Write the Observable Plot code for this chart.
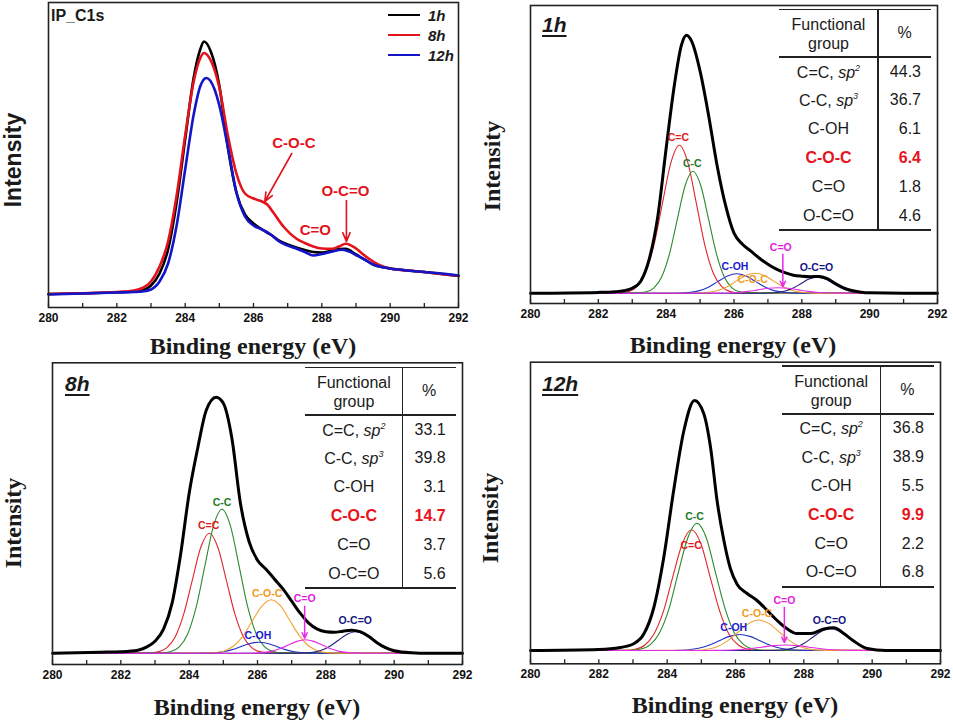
<!DOCTYPE html>
<html><head><meta charset="utf-8">
<script src="https://cdn.jsdelivr.net/npm/d3@7"></script>
<script src="https://cdn.jsdelivr.net/npm/@observablehq/plot@0.6"></script>
<style>
body{margin:0;background:#fff;}
#root{position:relative;width:953px;height:720px;overflow:hidden;font-family:"Liberation Sans",Arial,sans-serif;color:#1a1a1a;}
.abs{position:absolute;}
.ctr{position:absolute;transform:translate(-50%,-50%);white-space:nowrap;}
.rot{position:absolute;transform:translate(-50%,-50%) rotate(-90deg);white-space:nowrap;}
.serifTitle{font-family:"Liberation Serif","Times New Roman",serif;font-weight:bold;font-size:24px;}
.hline{position:absolute;height:1.6px;background:#222;}
.vline{position:absolute;width:1.6px;background:#222;}
.cell{position:absolute;transform:translate(-50%,-50%);white-space:nowrap;font-size:16px;}
.num{position:absolute;transform:translate(-100%,-50%);white-space:nowrap;font-size:16px;}
sup{font-size:9px;vertical-align:7px;}
.ptitle{position:absolute;transform:translateY(-50%);font-weight:bold;font-style:italic;font-size:21px;text-decoration:underline;text-decoration-thickness:1.5px;text-underline-offset:3px;}
</style></head>
<body><div id="root"></div>
<script>
// ---------------- DATA ----------------
const energyTicks = [280, 282, 284, 286, 288, 290, 292];
const energyMinorTicks = [281, 283, 285, 287, 289, 291];
const seriesNames = ["1h", "8h", "12h"];

// Overview spectra (binding energy eV, intensity a.u.)
const overview1h = [[280,13.5],[281,14.2],[282,15.2],[282.5,16],[282.75,17],[283,22],[283.25,34],[283.5,58],[283.75,105],[284,168],[284.25,230],[284.45,259],[284.55,266],[284.75,256],[285,222],[285.25,160],[285.5,115],[285.75,93],[286,84],[286.25,78],[286.5,73],[286.75,67],[287,63],[287.25,60],[287.5,57.5],[287.75,55.5],[288,55],[288.25,56.5],[288.5,58.5],[288.7,58.7],[289,53],[289.25,48],[289.5,43],[289.75,40.5],[290,39],[290.5,37],[291,35.5],[291.5,33.5],[292,31.5]];
const overview8h = [[280,13.5],[281,14.2],[282,15.5],[282.5,17],[282.75,19.5],[283,26],[283.25,41],[283.5,66],[283.75,112],[284,172],[284.25,226],[284.45,250],[284.55,254.5],[284.75,247],[285,220],[285.25,172],[285.5,134],[285.75,114],[286,109],[286.25,106],[286.4,103],[286.6,94],[286.9,80],[287.25,69],[287.5,64.5],[287.75,61],[288,59],[288.3,58.7],[288.5,61],[288.7,63.7],[289,59],[289.25,52],[289.5,46],[289.75,41.5],[290,39],[290.5,37],[291,35.5],[291.5,33.5],[292,31.5]];
const overview12h = [[280,13],[281,14],[282,15],[282.5,15.5],[282.75,16],[283,18],[283.25,26],[283.5,44],[283.75,82],[284,138],[284.25,193],[284.45,222],[284.62,229.5],[284.85,219],[285,202],[285.25,160],[285.5,115],[285.75,91],[286,82],[286.25,78],[286.5,73],[286.75,66],[287,62],[287.25,59],[287.5,55.5],[287.75,52],[288,53.5],[288.25,55.5],[288.6,57.7],[288.8,56],[289,52.5],[289.25,48],[289.5,43],[289.75,40.5],[290,39],[290.5,37],[291,35.5],[291.5,34],[292,32]];

// Table contents
const componentNames = ["C=C", "C-C", "C-OH", "C-O-C", "C=O", "O-C=O"];
const hybridization = ["2", "3", null, null, null, null];
const percent1h = [44.3, 36.7, 6.1, 6.4, 1.8, 4.6];
const percent8h = [33.1, 39.8, 3.1, 14.7, 3.7, 5.6];
const percent12h = [36.8, 38.9, 5.5, 9.9, 2.2, 6.8];

// Deconvoluted C1s, 1h
const fit1hEnvelope = [[280,0],[282,0.8],[282.5,1.5],[282.75,2.5],[283,5],[283.25,12],[283.5,34],[283.75,76],[284,145],[284.25,210],[284.45,248],[284.6,258],[284.75,252],[285,222],[285.25,178],[285.5,128],[285.75,88],[286,60],[286.25,49],[286.5,42],[286.75,35],[287,29],[287.25,24],[287.5,20.5],[287.75,18],[288,17],[288.25,16.5],[288.5,16.8],[288.75,14.5],[289,9.5],[289.25,5],[289.5,2.5],[289.75,1],[290,0.4],[291,0],[292,0]];
const fit1hCdC = [[282.64,0.3],[282.89,1.6],[283.14,6.5],[283.39,20.0],[283.64,48.1],[283.89,89.8],[284.14,130.6],[284.39,148],[284.64,130.6],[284.89,89.8],[285.14,48.1],[285.39,20.0],[285.64,6.5],[285.89,1.6],[286.14,0.3]];
const fit1hCC = [[283.18,0.3],[283.41,1.4],[283.64,5.4],[283.87,16.5],[284.10,39.6],[284.33,74.0],[284.56,107.7],[284.79,122],[285.02,107.7],[285.25,74.0],[285.48,39.6],[285.71,16.5],[285.94,5.4],[286.17,1.4],[286.40,0.3]];
const fit1hCOH = [[284.16,0],[284.43,0.2],[284.71,0.9],[284.98,2.6],[285.26,6.3],[285.53,11.8],[285.81,17.2],[286.08,19.5],[286.36,17.2],[286.63,11.8],[286.91,6.3],[287.18,2.6],[287.46,0.9],[287.73,0.2],[288.01,0]];
const fit1hCOC = [[284.70,0],[284.97,0.2],[285.25,0.9],[285.52,2.7],[285.80,6.5],[286.07,12.1],[286.35,17.7],[286.62,20],[286.90,17.7],[287.17,12.1],[287.45,6.5],[287.72,2.7],[288.00,0.9],[288.27,0.2],[288.55,0]];
const fit1hCdO = [[285.2,0],[285.5,0.1],[285.8,0.2],[286.1,0.7],[286.4,1.8],[286.7,3.3],[287.0,4.9],[287.3,5.5],[287.6,4.9],[287.9,3.3],[288.2,1.8],[288.5,0.7],[288.8,0.2],[289.1,0.1],[289.4,0]];
const fit1hOCdO = [[286.81,0],[287.04,0.2],[287.28,0.7],[287.51,2.2],[287.75,5.2],[287.98,9.7],[288.21,14.1],[288.45,16],[288.69,14.1],[288.92,9.7],[289.16,5.2],[289.39,2.2],[289.63,0.7],[289.86,0.2],[290.10,0]];

// Deconvoluted C1s, 8h
const fit8hEnvelope = [[280,0],[281.4,1],[282,1.5],[282.5,3],[282.75,6],[283,12],[283.25,24],[283.5,50],[283.75,99],[284,160],[284.25,205],[284.5,243],[284.79,256],[285,250],[285.25,215],[285.5,150],[285.75,112],[286,93],[286.25,84],[286.5,74],[286.75,64],[287,52],[287.25,40],[287.5,30],[287.75,24],[288,21.5],[288.25,21],[288.5,22],[288.75,23],[289,21.5],[289.25,17],[289.5,10.5],[289.75,5.5],[290,2.5],[290.5,0.5],[291,0],[292,0]];
const fit8hCdC = [[282.84,0.3],[283.09,1.3],[283.34,5.3],[283.59,16.2],[283.84,39.0],[284.09,72.8],[284.34,105.9],[284.59,120],[284.84,105.9],[285.09,72.8],[285.34,39.0],[285.59,16.2],[285.84,5.3],[286.09,1.3],[286.34,0.3]];
const fit8hCC = [[283.21,0.3],[283.46,1.6],[283.71,6.3],[283.96,19.5],[284.21,46.8],[284.46,87.3],[284.71,127.1],[284.96,144],[285.21,127.1],[285.46,87.3],[285.71,46.8],[285.96,19.5],[286.21,6.3],[286.46,1.6],[286.71,0.3]];
const fit8hCOH = [[284.22,0],[284.48,0.1],[284.74,0.5],[285.00,1.5],[285.26,3.6],[285.52,6.7],[285.78,9.7],[286.04,11],[286.30,9.7],[286.56,6.7],[286.82,3.6],[287.08,1.5],[287.34,0.5],[287.60,0.1],[287.86,0]];
const fit8hCOC = [[284.48,0.1],[284.75,0.6],[285.03,2.3],[285.30,7.2],[285.58,17.3],[285.85,32.4],[286.13,47.1],[286.40,53.4],[286.68,47.1],[286.95,32.4],[287.23,17.3],[287.50,7.2],[287.78,2.3],[288.05,0.6],[288.33,0.1]];
const fit8hCdO = [[285.65,0],[285.90,0.1],[286.15,0.6],[286.40,1.8],[286.65,4.4],[286.90,8.1],[287.15,11.8],[287.40,13.4],[287.65,11.8],[287.90,8.1],[288.15,4.4],[288.40,1.8],[288.65,0.6],[288.90,0.1],[289.15,0]];
const fit8hOCdO = [[287.12,0],[287.37,0.2],[287.62,0.9],[287.87,2.9],[288.12,7.0],[288.37,13.0],[288.62,19.0],[288.87,21.5],[289.12,19.0],[289.37,13.0],[289.62,7.0],[289.87,2.9],[290.12,0.9],[290.37,0.2],[290.62,0]];

// Deconvoluted C1s, 12h
const fit12hEnvelope = [[280,0],[282,1],[282.63,3],[283.02,6.7],[283.32,16.7],[283.61,43],[283.9,93],[284.19,160],[284.49,220],[284.8,250],[285.07,237],[285.27,203],[285.46,150],[285.66,110],[285.85,82],[286.05,66],[286.34,57],[286.63,50],[286.93,40],[287.22,30],[287.51,21.7],[287.8,17],[288.2,17],[288.59,21.5],[288.88,22.7],[289.17,17],[289.46,9.5],[289.85,2],[290.4,0],[292,0]];
const fit12hCdC = [[282.79,0.3],[283.06,1.3],[283.34,5.3],[283.61,16.3],[283.89,39.2],[284.16,73.2],[284.44,106.5],[284.71,120.7],[284.99,106.5],[285.26,73.2],[285.54,39.2],[285.81,16.3],[286.09,5.3],[286.36,1.3],[286.64,0.3]];
const fit12hCC = [[282.95,0.3],[283.22,1.4],[283.50,5.6],[283.77,17.2],[284.05,41.3],[284.32,77.2],[284.60,112.3],[284.87,127.3],[285.15,112.3],[285.42,77.2],[285.70,41.3],[285.97,17.2],[286.25,5.6],[286.52,1.4],[286.80,0.3]];
const fit12hCOH = [[284.02,0],[284.32,0.2],[284.62,0.7],[284.92,2.2],[285.22,5.2],[285.52,9.7],[285.82,14.1],[286.12,16],[286.42,14.1],[286.72,9.7],[287.02,5.2],[287.32,2.2],[287.62,0.7],[287.92,0.2],[288.22,0]];
const fit12hCOC = [[284.58,0.1],[284.88,0.3],[285.18,1.3],[285.48,4.1],[285.78,9.9],[286.08,18.5],[286.38,26.9],[286.68,30.5],[286.98,26.9],[287.28,18.5],[287.58,9.9],[287.88,4.1],[288.18,1.3],[288.48,0.3],[288.78,0.1]];
const fit12hCdO = [[285.01,0],[285.36,0.1],[285.71,0.2],[286.06,0.7],[286.41,1.8],[286.76,3.3],[287.11,4.9],[287.46,5.5],[287.81,4.9],[288.16,3.3],[288.51,1.8],[288.86,0.7],[289.21,0.2],[289.56,0.1],[289.91,0]];
const fit12hOCdO = [[286.96,0],[287.22,0.2],[287.48,1.0],[287.74,2.9],[288.00,7.0],[288.26,13.2],[288.52,19.2],[288.78,21.7],[289.04,19.2],[289.30,13.2],[289.56,7.0],[289.82,2.9],[290.08,1.0],[290.34,0.2],[290.60,0]];

// ---------------- STYLE / LAYOUT ----------------
const FONT = "Liberation Sans, Arial, sans-serif";
const seriesColors = {"1h": "#000000", "8h": "#e3121b", "12h": "#1414c8"};
const compColors = {"C=C": "#e0262a", "C-C": "#2c8a2c", "C-OH": "#2430c8", "C-O-C": "#f2a233", "C=O": "#e52be5", "O-C=O": "#1e1e7c"};
const labelColors = {"C=C": "#e01a1a", "C-C": "#1f7a1f", "C-OH": "#1a1ad0", "C-O-C": "#ef9a22", "C=O": "#e020e0", "O-C=O": "#15157e"};
const root = document.getElementById("root");

function rows(pts, extra) { return pts.map(([e, v]) => Object.assign({e, v}, extra || {})); }
function withBaseline(pts) { return [[280, 0], ...pts, [292, 0]]; }

function axisMarks(frameH) {
  return [
    Plot.tickX(energyTicks.concat(energyMinorTicks), {x: d => d, stroke: "#222", strokeWidth: 1.3, insetTop: frameH - 4}),
    Plot.axisX({ticks: energyTicks, tickSize: 0, tickPadding: 6, fontSize: 12, fontWeight: "bold", fontFamily: FONT, label: null, tickFormat: d => String(d)}),
    Plot.frame({stroke: "#222", strokeWidth: 1.6})
  ];
}

function mount(svg, left, top) {
  const d = document.createElement("div");
  d.className = "abs"; d.style.left = left + "px"; d.style.top = top + "px";
  d.appendChild(svg); root.appendChild(d);
}
function addText(html, x, y, cls, css) {
  const d = document.createElement("div");
  d.className = cls; d.style.left = x + "px"; d.style.top = y + "px";
  if (css) d.style.cssText += css;
  d.innerHTML = html; root.appendChild(d);
  return d;
}

// ---------- Panel 1: overview ----------
(function () {
  const W = 470, H = 330, mt = 2, mb = 23;
  const spectra = {"1h": overview1h, "8h": overview8h, "12h": overview12h};
  const marks = [];
  for (const name of seriesNames) {
    marks.push(Plot.line(rows(spectra[name]), {x: "e", y: "v", stroke: seriesColors[name], strokeWidth: 2.6, curve: "monotone-x"}));
  }
  const ann = [
    {t: "C-O-C", x: 287.18, y: 164},
    {t: "C=O", x: 287.81, y: 77.7},
    {t: "O-C=O", x: 288.69, y: 116}
  ];
  const arrows = [
    {x1: 287.12, y1: 154, x2: 286.33, y2: 106},
    {x1: 288.72, y1: 107, x2: 288.72, y2: 66}
  ];
  marks.push(Plot.text(ann, {x: "x", y: "y", text: "t", fill: "#e3121b", fontWeight: "bold", fontSize: 15, fontFamily: FONT}));
  marks.push(Plot.arrow(arrows, {x1: "x1", y1: "y1", x2: "x2", y2: "y2", stroke: "#e3121b", strokeWidth: 1.6, headLength: 9, headAngle: 45}));
  const svg = Plot.plot({
    width: W, height: H, marginLeft: 48, marginRight: 12, marginTop: mt, marginBottom: mb,
    x: {domain: [280, 292]}, y: {domain: [0, 305], axis: null},
    style: {fontFamily: FONT, color: "#111", background: "transparent", overflow: "visible"},
    marks: [...marks, ...axisMarks(H - mt - mb)]
  });
  mount(svg, 0, 0);
  addText("IP_C1s", 51, 16, "abs", "transform:translateY(-50%);font-weight:bold;font-size:16px;");
  const legY = [15, 35, 55];
  seriesNames.forEach((n, i) => {
    const l = document.createElement("div");
    l.className = "abs";
    l.style.cssText = `left:388px;top:${legY[i] - 1.3}px;width:32px;height:2.6px;background:${seriesColors[n]};`;
    root.appendChild(l);
    addText(n, 428, legY[i], "abs", "transform:translateY(-50%);font-weight:bold;font-style:italic;font-size:15px;");
  });
  addText("Intensity", 13, 160, "rot", "font-weight:bold;font-size:23px;");
  addText("Binding energy (eV)", 253, 346, "ctr serifTitle");
})();

// ---------- Fitted panels ----------
function fitPanel(cfg) {
  const comps = [
    ["C=C", cfg.data.CdC], ["C-C", cfg.data.CC], ["C-OH", cfg.data.COH],
    ["C-O-C", cfg.data.COC], ["O-C=O", cfg.data.OCdO], ["C=O", cfg.data.CdO]
  ];
  const marks = [];
  for (const [name, pts] of comps) {
    marks.push(Plot.line(rows(withBaseline(pts)), {x: "e", y: "v", stroke: compColors[name], strokeWidth: 1.1, curve: "monotone-x"}));
  }
  marks.push(Plot.line(rows(cfg.data.env), {x: "e", y: "v", stroke: "#000", strokeWidth: 3, curve: "monotone-x"}));
  marks.push(Plot.arrow([cfg.arrow], {x1: "x1", y1: "y1", x2: "x2", y2: "y2", stroke: compColors["C=O"], strokeWidth: 1.5, headLength: 6, headAngle: 50}));
  marks.push(Plot.text(cfg.labels, {x: "x", y: "y", text: "t", fill: d => labelColors[d.t], fontWeight: "bold", fontSize: 10.5, fontFamily: FONT}));
  const svg = Plot.plot({
    width: cfg.W, height: cfg.H, marginLeft: cfg.ml, marginRight: cfg.mr, marginTop: cfg.mt, marginBottom: cfg.mb,
    x: {domain: [280, 292]}, y: {domain: cfg.yDomain, axis: null},
    style: {fontFamily: FONT, color: "#111", background: "transparent", overflow: "visible"},
    marks: [...marks, ...axisMarks(cfg.H - cfg.mt - cfg.mb)]
  });
  mount(svg, cfg.left, cfg.top);
  addText(cfg.title, cfg.titlePos[0], cfg.titlePos[1], "ptitle");
  addText("Intensity", cfg.yTitle[0], cfg.yTitle[1], "rot serifTitle");
  addText("Binding energy (eV)", cfg.xTitle[0], cfg.xTitle[1], "ctr serifTitle");
  makeTable(cfg.table, cfg.pct);
}

function makeTable(t, pct) {
  const {left, top, w1, w2} = t;
  const headerH = 48, rowH = 28.8, W = w1 + w2, bottom = headerH + 6 * rowH;
  const box = document.createElement("div");
  box.className = "abs"; box.style.left = left + "px"; box.style.top = top + "px";
  box.style.width = W + "px"; box.style.height = bottom + "px";
  root.appendChild(box);
  const add = (cls, css, html) => { const d = document.createElement("div"); d.className = cls; d.style.cssText = css; if (html != null) d.innerHTML = html; box.appendChild(d); };
  add("hline", `left:0;top:-0.8px;width:${W}px;`);
  add("hline", `left:0;top:${headerH - 0.8}px;width:${W}px;`);
  add("hline", `left:0;top:${bottom - 0.8}px;width:${W}px;`);
  add("vline", `left:${w1 - 0.8}px;top:0;height:${bottom}px;`);
  add("cell", `left:${w1 / 2}px;top:16px;`, "Functional");
  add("cell", `left:${w1 / 2}px;top:35px;`, "group");
  add("cell", `left:${w1 + w2 / 2}px;top:24px;`, "%");
  componentNames.forEach((n, i) => {
    const y = headerH + rowH * (i + 0.5);
    const hot = n === "C-O-C";
    const style = hot ? "color:#e8141c;font-weight:bold;" : "";
    const label = hybridization[i] ? `${n}, <i>sp<sup>${hybridization[i]}</sup></i>` : n;
    add("cell", `left:${w1 / 2}px;top:${y}px;${style}`, label);
    add("num", `left:${W - 10}px;top:${y}px;${style}`, pct[i].toFixed(1));
  });
}

fitPanel({
  left: 475, top: 0, W: 475, H: 330, ml: 55, mr: 13, mt: 5, mb: 27, yDomain: [-10.3, 287.7],
  data: {env: fit1hEnvelope, CdC: fit1hCdC, CC: fit1hCC, COH: fit1hCOH, COC: fit1hCOC, CdO: fit1hCdO, OCdO: fit1hOCdO},
  labels: [{t: "C=C", x: 284.36, y: 156}, {t: "C-C", x: 284.77, y: 129.4}, {t: "C-OH", x: 286.03, y: 27}, {t: "C-O-C", x: 286.55, y: 13.4}, {t: "C=O", x: 287.38, y: 45.4}, {t: "O-C=O", x: 288.43, y: 25.4}],
  arrow: {x1: 287.44, y1: 39, x2: 287.44, y2: 6.5},
  title: "1h", titlePos: [542, 25], yTitle: [492, 166], xTitle: [733, 345],
  table: {left: 779, top: 9.3, w1: 99, w2: 53}, pct: percent1h
});
fitPanel({
  left: 0, top: 355, W: 470, H: 330, ml: 52, mr: 8, mt: 7.3, mb: 21, yDomain: [-11.3, 290.4],
  data: {env: fit8hEnvelope, CdC: fit8hCdC, CC: fit8hCC, COH: fit8hCOH, COC: fit8hCOC, CdO: fit8hCdO, OCdO: fit8hOCdO},
  labels: [{t: "C=C", x: 284.57, y: 127.7}, {t: "C-C", x: 284.96, y: 151}, {t: "C-OH", x: 286.01, y: 17.7}, {t: "C-O-C", x: 286.28, y: 59.4}, {t: "C=O", x: 287.38, y: 54.4}, {t: "O-C=O", x: 288.86, y: 32.7}],
  arrow: {x1: 287.38, y1: 47, x2: 287.38, y2: 15},
  title: "8h", titlePos: [65, 384], yTitle: [13, 523], xTitle: [257, 707],
  table: {left: 305, top: 367.3, w1: 97.7, w2: 53}, pct: percent8h
});
fitPanel({
  left: 475, top: 355, W: 475, H: 330, ml: 55, mr: 10, mt: 6.7, mb: 21.7, yDomain: [-13.3, 288.3],
  data: {env: fit12hEnvelope, CdC: fit12hCdC, CC: fit12hCC, COH: fit12hCOH, COC: fit12hCOC, CdO: fit12hCdO, OCdO: fit12hOCdO},
  labels: [{t: "C=C", x: 284.70, y: 105}, {t: "C-C", x: 284.80, y: 134}, {t: "C-OH", x: 285.95, y: 23.3}, {t: "C-O-C", x: 286.63, y: 37.3}, {t: "C=O", x: 287.43, y: 50}, {t: "O-C=O", x: 288.75, y: 30}],
  arrow: {x1: 287.43, y1: 43, x2: 287.43, y2: 8},
  title: "12h", titlePos: [542, 384], yTitle: [490, 518], xTitle: [735, 705],
  table: {left: 781.7, top: 366, w1: 99, w2: 53.3}, pct: percent12h
});
</script>
</body></html>
